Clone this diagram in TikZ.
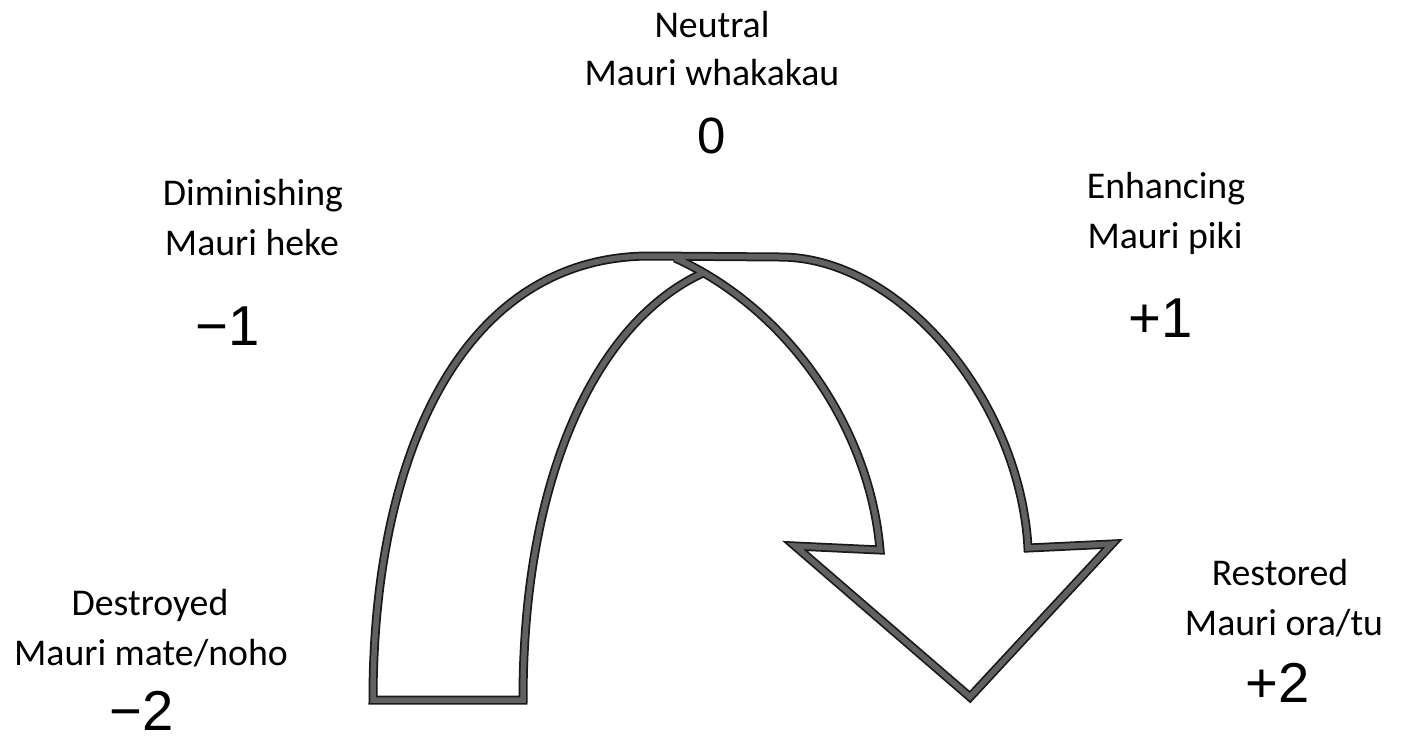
\documentclass[tikz,border=0pt]{standalone}
\usepackage{fontspec}
\setmainfont{Carlito}
\newfontfamily\numfont{Liberation Sans}
\usetikzlibrary{positioning}

\tikzset{
	word/.style={anchor=base,font=\fontsize{21.5}{26}\selectfont,inner sep=0pt},
	score/.style={anchor=base,font=\numfont\fontsize{32}{36}\selectfont,inner sep=0pt},
	band/.style={draw=black!90,double=black!62,double distance=0.11cm,line width=0.035cm,line join=miter}
}

\begin{document}
\begin{tikzpicture}[x=0.02cm,y=-0.02cm]
		
		\useasboundingbox
		(0,0) rectangle (1415,744);
		
		% the curved arrow
		\draw[band]
		(703,273)
		.. controls (600,320) and (523,470) .. (523,700)
		-- (373,700)
		.. controls (373,450) and (465,256) .. (650,256)
		-- (780,257)
		.. controls (900,257) and (1020,400) .. (1028,548)
		-- (1112,544)
		-- (970,697)
		-- (795,546)
		-- (880,550)
		.. controls (870,430) and (790,310) .. (675,258);
		
		% top
		\node[word]
		(neutral) at (712,37)
		{Neutral};
		
		\node[word]
		(neutralm) at (712,85)
		{Mauri whakakau};
		
		\node[score,font=\numfont\fontsize{29}{32}\selectfont]
		(zero) at (712,153)
		{0};
		
		% left
		\node[word]
		(diminish) at (253,205)
		{Diminishing};
		
		\node[word]
		(diminishm) at (252,255)
		{Mauri heke};
		
		\node[score]
		(minusone) at (228,345)
		{−1};
		
		\node[word]
		(destroy) at (150,615)
		{Destroyed};
		
		\node[word]
		(destroym) at (151,665)
		{Mauri mate/noho};
		
		\node[score]
		(minustwo) at (142,730)
		{−2};
		
		% right
		\node[word]
		(enhance) at (1166,198)
		{Enhancing};
		
		\node[word]
		(enhancem) at (1165,248)
		{Mauri piki};
		
		\node[score]
		(plusone) at (1161,337)
		{+1};
		
		\node[word]
		(restore) at (1280,585)
		{Restored};
		
		\node[word]
		(restorem) at (1284,635)
		{Mauri ora/tu};
		
		\node[score]
		(plustwo) at (1278,702)
		{+2};
		
	\end{tikzpicture}
\end{document}
